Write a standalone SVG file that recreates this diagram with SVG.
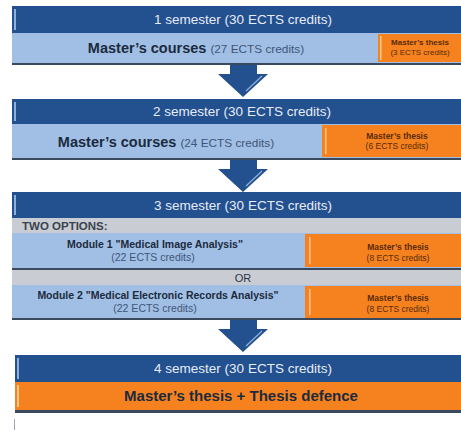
<svg xmlns="http://www.w3.org/2000/svg" width="461" height="434" viewBox="0 0 461 434">
  <style>
    .hdr { fill: #23508e; }
    .row { fill: #a1bfe4; }
    .gray { fill: #c9cdd3; }
    .thesis { fill: #f5821f; }
    .rule { fill: #3a4a5e; }
    .stripe { fill: #8fb0dc; }
    .ostripe { fill: #fbc68a; }
    .arrow { fill: #23508e; }
    .hl { stroke: #8fb0dc; stroke-width: 1.2; fill: none; }
    text { font-family: "Liberation Sans", Arial, sans-serif; }
    .ht { fill: #e6edf7; font-size: 13.5px; text-anchor: middle; }
    .big { fill: #1b2a3e; font-size: 14.5px; font-weight: bold; }
    .bigsub { fill: #3e5578; font-size: 11.8px; font-weight: normal; }
    .mod { fill: #1b2a3e; font-size: 10.5px; font-weight: bold; text-anchor: middle; }
    .modsub { fill: #3e5578; font-size: 10.5px; text-anchor: middle; }
    .tt { fill: #5a2a08; font-size: 8.5px; font-weight: bold; text-anchor: middle; }
    .ts { fill: #5a2a08; font-size: 8.5px; text-anchor: middle; }
    .lbl { fill: #3a4250; font-size: 11.5px; font-weight: bold; }
  </style>
  <defs>
    <path id="down" d="M230,0 H257 V9 H268 L243,32 L218,9 H230 Z"/>
  </defs>

  <!-- semester 1 -->
  <g id="semester1">
    <rect class="hdr" x="12" y="6" width="449" height="27"/>
    <rect class="stripe" x="14" y="9" width="2" height="21"/>
    <text class="ht" x="243" y="24">1 semester (30 ECTS credits)</text>
    <rect class="row" x="12" y="33" width="449" height="30"/>
    <text x="196" y="53" text-anchor="middle"><tspan class="big">Master’s courses </tspan><tspan class="bigsub">(27 ECTS credits)</tspan></text>
    <rect class="thesis" x="378" y="34" width="83" height="28"/>
    <rect class="ostripe" x="380" y="36" width="1.5" height="24"/>
    <text class="tt" x="420" y="45" style="font-size:8px">Master’s thesis</text>
    <text class="ts" x="420" y="55" style="font-size:8px">(3 ECTS credits)</text>
    <rect class="rule" x="12" y="63" width="449" height="2"/>
  </g>

  <!-- semester 2 -->
  <g id="semester2">
    <rect class="hdr" x="12" y="99" width="449" height="25"/>
    <rect class="stripe" x="14" y="102" width="2" height="19"/>
    <text class="ht" x="242" y="116">2 semester (30 ECTS credits)</text>
    <rect class="row" x="12" y="124" width="449" height="34"/>
    <text x="166" y="147" text-anchor="middle"><tspan class="big">Master’s courses </tspan><tspan class="bigsub">(24 ECTS credits)</tspan></text>
    <rect class="thesis" x="322" y="125" width="139" height="32"/>
    <rect class="ostripe" x="325" y="128" width="1.5" height="26"/>
    <text class="tt" x="397" y="139">Master’s thesis</text>
    <text class="ts" x="397" y="149">(6 ECTS credits)</text>
    <rect class="rule" x="12" y="158" width="449" height="2"/>
  </g>

  <!-- semester 3 -->
  <g id="semester3">
    <rect class="hdr" x="12" y="192" width="449" height="26"/>
    <rect class="stripe" x="14" y="195" width="2" height="20"/>
    <text class="ht" x="243" y="210">3 semester (30 ECTS credits)</text>
    <rect class="gray" x="12" y="218" width="449" height="15"/>
    <text class="lbl" x="22" y="230">TWO OPTIONS:</text>
    <rect class="row" x="12" y="233" width="449" height="35"/>
    <text class="mod" x="155" y="248">Module 1 "Medical Image Analysis"</text>
    <text class="modsub" x="153" y="261">(22 ECTS credits)</text>
    <rect class="thesis" x="305" y="234" width="156" height="33"/>
    <rect class="ostripe" x="309" y="237" width="1.5" height="27"/>
    <text class="tt" x="398" y="250">Master’s thesis</text>
    <text class="ts" x="398" y="261">(8 ECTS credits)</text>
    <rect class="rule" x="12" y="268" width="449" height="2"/>
    <rect class="gray" x="12" y="270" width="449" height="15"/>
    <text class="ht" x="243" y="282" style="fill:#2a3548;font-size:11px">OR</text>
    <rect class="row" x="12" y="285" width="449" height="33"/>
    <text class="mod" x="158" y="299">Module 2 "Medical Electronic Records Analysis"</text>
    <text class="modsub" x="155" y="312">(22 ECTS credits)</text>
    <rect class="thesis" x="305" y="286" width="156" height="32"/>
    <rect class="ostripe" x="309" y="289" width="1.5" height="26"/>
    <text class="tt" x="398" y="301">Master’s thesis</text>
    <text class="ts" x="398" y="312">(8 ECTS credits)</text>
    <rect class="rule" x="12" y="318" width="449" height="2"/>
  </g>

  <!-- semester 4 -->
  <g id="semester4">
    <rect class="hdr" x="15" y="355" width="446" height="27"/>
    <rect class="stripe" x="17" y="358" width="2" height="21"/>
    <text class="ht" x="243" y="373">4 semester (30 ECTS credits)</text>
    <rect class="thesis" x="15" y="382" width="446" height="28"/>
    <rect class="ostripe" x="17" y="385" width="2" height="22"/>
    <text class="big" x="241" y="401" text-anchor="middle" style="font-size:15px">Master’s thesis + Thesis defence</text>
    <rect class="rule" x="15" y="410" width="446" height="3"/>
    <rect x="14" y="419" width="1" height="11" fill="#9aa6b6"/>
  </g>

  <!-- arrows between semesters -->
  <g id="connectors">
    <use href="#down" class="arrow" y="65"/>
    <path class="hl" d="M262,76 L246,91"/>
    <use href="#down" class="arrow" y="160"/>
    <path class="hl" d="M262,171 L246,186"/>
    <use href="#down" class="arrow" y="320"/>
    <path class="hl" d="M262,331 L246,346"/>
  </g>
</svg>
